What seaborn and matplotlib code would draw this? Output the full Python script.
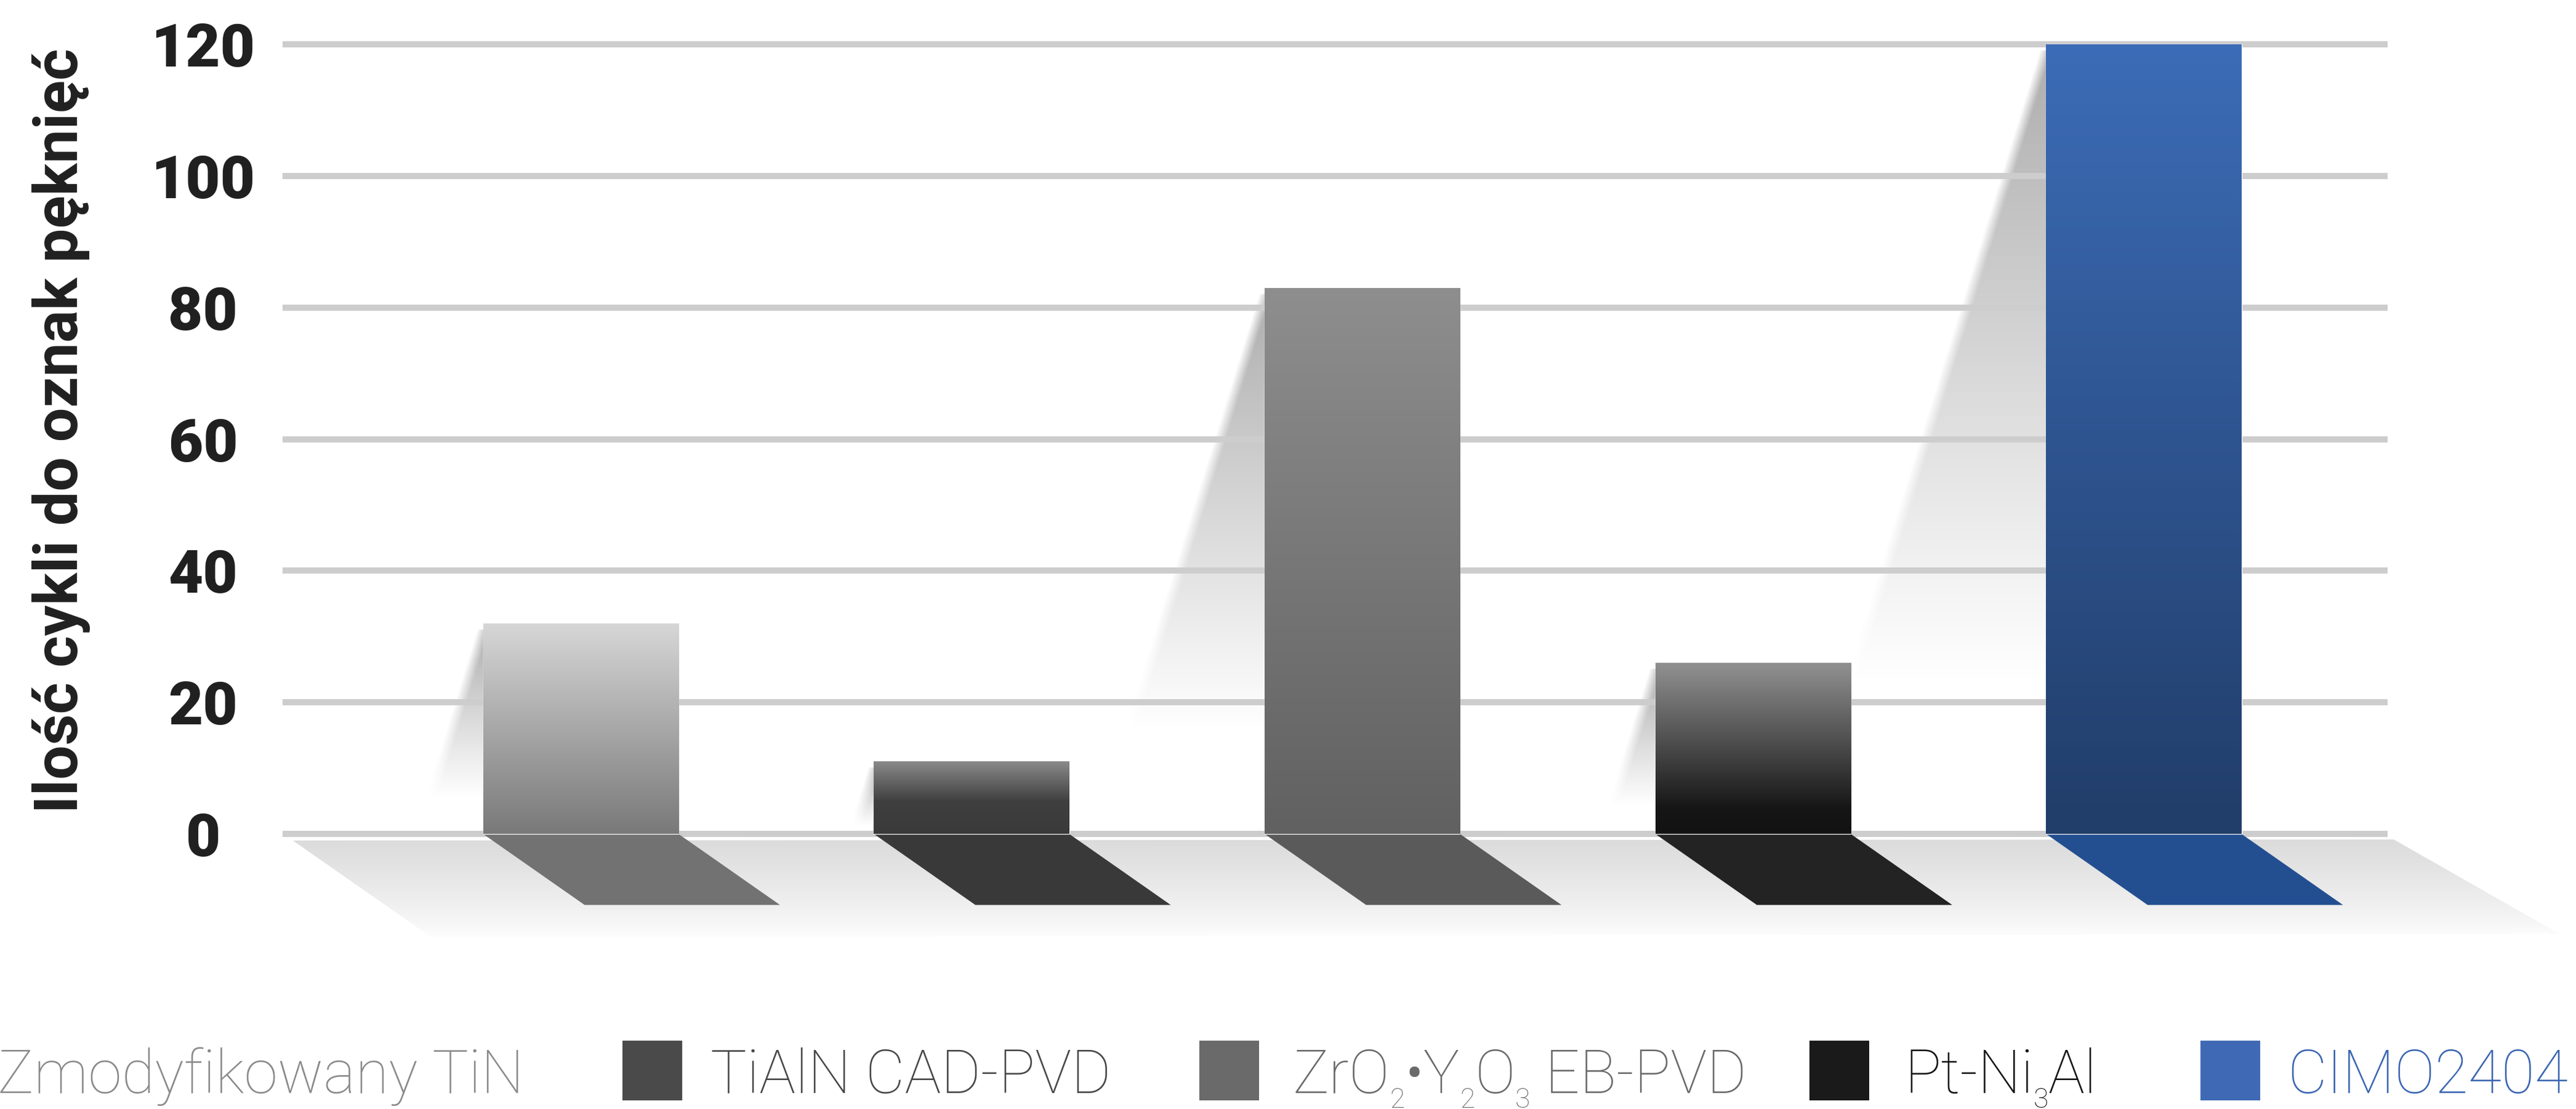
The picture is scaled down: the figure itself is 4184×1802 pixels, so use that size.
import numpy as np
import pandas as pd
import matplotlib
matplotlib.use("Agg")
import matplotlib.pyplot as plt
from matplotlib.patches import Polygon, Rectangle
from matplotlib.colors import LinearSegmentedColormap
import seaborn as sns

# ---------------- data ----------------
coatings = ["Zmodyfikowany TiN", "TiAlN CAD-PVD", "ZrO2•Y2O3 EB-PVD", "Pt-Ni3Al", "CIMO2404"]
cycles = [32, 11, 83, 26, 120]
y_ticks = [0, 20, 40, 60, 80, 100, 120]
y_title = "Ilość cykli do oznak pęknięć"
# legend labels split into (text, is_subscript) pieces
legend_pieces = [
    [("Zmodyfikowany TiN", False)],
    [("TiAlN CAD-PVD", False)],
    [("ZrO", False), ("2", True), ("•Y", False), ("2", True), ("O", False), ("3", True), (" EB-PVD", False)],
    [("Pt-Ni", False), ("3", True), ("Al", False)],
    [("CIMO2404", False)],
]

# ---------------- styles ----------------
bar_stops = [
    [(0.0, "#d7d7d7"), (1.0, "#797979")],
    [(0.0, "#8a8a8a"), (0.55, "#3f3f3f"), (1.0, "#3a3a3a")],
    [(0.0, "#8e8e8e"), (1.0, "#616161")],
    [(0.0, "#919191"), (0.85, "#161616"), (1.0, "#121212")],
    [(0.0, "#3c6cb7"), (1.0, "#213d69")],
]
floor_colors = ["#727272", "#393939", "#5a5a5a", "#232323", "#234f91"]
legend_marker_colors = ["#bdbdbd", "#4a4a4a", "#6a6a6a", "#1a1a1a", "#3f69b4"]
legend_text_colors = ["#8a8a8a", "#474747", "#6a6a6a", "#151515", "#3b66b2"]
grid_color = "#cdcdcd"
text_dark = "#202020"

W, H, DPI = 4184, 1802, 100

sns.set_theme(style="white")
plt.rcParams["font.family"] = ["Roboto", "DejaVu Sans"]

fig = plt.figure(figsize=(W / DPI, H / DPI), dpi=DPI)
fig.patch.set_facecolor("white")

# axes geometry (pixel layout of the plotting area)
XLIM = (-0.763, 5.1)
YLIM = (-16.5, 120.6)
ax_left_px, ax_right_px = 459, 4180
ax_top_px, ax_bottom_px = 65.8, 1531.4
ax = fig.add_axes([ax_left_px / W, 1 - ax_bottom_px / H,
                   (ax_right_px - ax_left_px) / W, (ax_bottom_px - ax_top_px) / H])
ax.patch.set_alpha(0)

df = pd.DataFrame({"coating": coatings, "cycles": cycles})
palette = {c: s[-1][1] for c, s in zip(coatings, bar_stops)}
sns.barplot(data=df, x="coating", y="cycles", hue="coating", palette=palette,
            width=0.5, saturation=1, legend=False, ax=ax, zorder=3)
bars = list(ax.patches)

# gradient fills on the bars
for i, p in enumerate(bars):
    x0, w, h = p.get_x(), p.get_width(), p.get_height()
    cmap = LinearSegmentedColormap.from_list(f"bar{i}", bar_stops[i])
    grad = np.linspace(0, 1, 256)[:, None]
    im = ax.imshow(grad, cmap=cmap, vmin=0, vmax=1, extent=(x0, x0 + w, 0, h),
                   origin="upper", aspect="auto", zorder=3.1, interpolation="bilinear")
    im.set_clip_path(p)


# soft shadows falling behind the bars
def cast_shadow(x_left, top, length, slope=0.0052, soft=0.03, tone=0.68):
    bottom = top - length
    x_min = x_left - slope * length - 3 * soft
    nx, ny = 300, 400
    xs = np.linspace(x_min, x_left, nx)
    ys = np.linspace(top, bottom, ny)
    X, Y = np.meshgrid(xs, ys)
    edge = x_left - slope * (top - Y)
    a_edge = np.clip((X - edge) / soft + 0.5, 0, 1)
    t = (Y - bottom) / length
    alpha = a_edge * t ** 1.05
    rgba = np.zeros((ny, nx, 4))
    rgba[..., :3] = tone
    rgba[..., 3] = alpha
    ax.imshow(rgba, extent=(x_min, x_left, bottom, top), origin="upper",
              aspect="auto", zorder=1, interpolation="bilinear")


for p in bars:
    h = p.get_height()
    cast_shadow(p.get_x(), h - 1, 0.8 * h)

# floor band under the baseline
band = Polygon([(-0.737, -1.0), (4.640, -0.85), (5.064, -15.2), (-0.382, -15.7)],
               closed=True, facecolor="none", edgecolor="none")
ax.add_patch(band)
ny = 300
t = np.linspace(0, 1, ny)
band_rgba = np.zeros((ny, 2, 4))
band_rgba[..., :3] = 0.86
band_rgba[..., 3] = ((1 - t) ** 0.8)[:, None]
im = ax.imshow(band_rgba, extent=(-0.8, 5.1, -16.0, -0.8), origin="upper",
               aspect="auto", zorder=0.5, interpolation="bilinear")
im.set_clip_path(band)

# slanted floor footprints of the bars
depth, shift = 10.8, 0.26
for i, p in enumerate(bars):
    x0 = p.get_x()
    x1 = x0 + p.get_width()
    ax.add_patch(Polygon([(x0, 0), (x1, 0), (x1 + shift, -depth), (x0 + shift, -depth)],
                         closed=True, facecolor=floor_colors[i], edgecolor="none", zorder=2.5))

# horizontal gridlines
ax.hlines(y_ticks, -0.763, 4.624, colors=grid_color, linewidth=7.2, zorder=1.5)

ax.set_xlim(*XLIM)
ax.set_ylim(*YLIM)
ax.set_xticks([])
ax.set_xlabel("")
ax.set_ylabel("")
ax.set_yticks(y_ticks)
ax.set_yticklabels([str(v) for v in y_ticks])
ax.tick_params(axis="y", length=0, pad=93, labelsize=70, labelcolor=text_dark)
for lbl in ax.get_yticklabels():
    lbl.set_fontweight("black")
    lbl.set_horizontalalignment("center")
for s in ax.spines.values():
    s.set_visible(False)
ax.grid(False)

# y-axis title
fig.text(100 / W, 1 - 700 / H, y_title, rotation=90, fontsize=71, fontweight="bold",
         color=text_dark, ha="center", va="center")

# legend row
renderer = fig.canvas.get_renderer()
baseline_px = 1776
marker_left_px = [-143, 1011, 1948, 2939, 3574]
text_left_px = [-4, 1154, 2100, 3093, 3715]
marker_size_px = 97
for i in range(len(coatings)):
    fig.patches.append(Rectangle((marker_left_px[i] / W, 1 - 1788 / H),
                                 marker_size_px / W, marker_size_px / H,
                                 transform=fig.transFigure, facecolor=legend_marker_colors[i],
                                 edgecolor="none"))
    x = text_left_px[i]
    for piece, sub in legend_pieces[i]:
        size = 32 if sub else 71
        y = baseline_px + (24 if sub else 0)
        txt = fig.text(x / W, 1 - y / H, piece, fontsize=size, fontweight="light",
                       color=legend_text_colors[i], ha="left", va="baseline")
        x += txt.get_window_extent(renderer).width

fig.savefig("out.png", dpi=DPI, facecolor="white")
